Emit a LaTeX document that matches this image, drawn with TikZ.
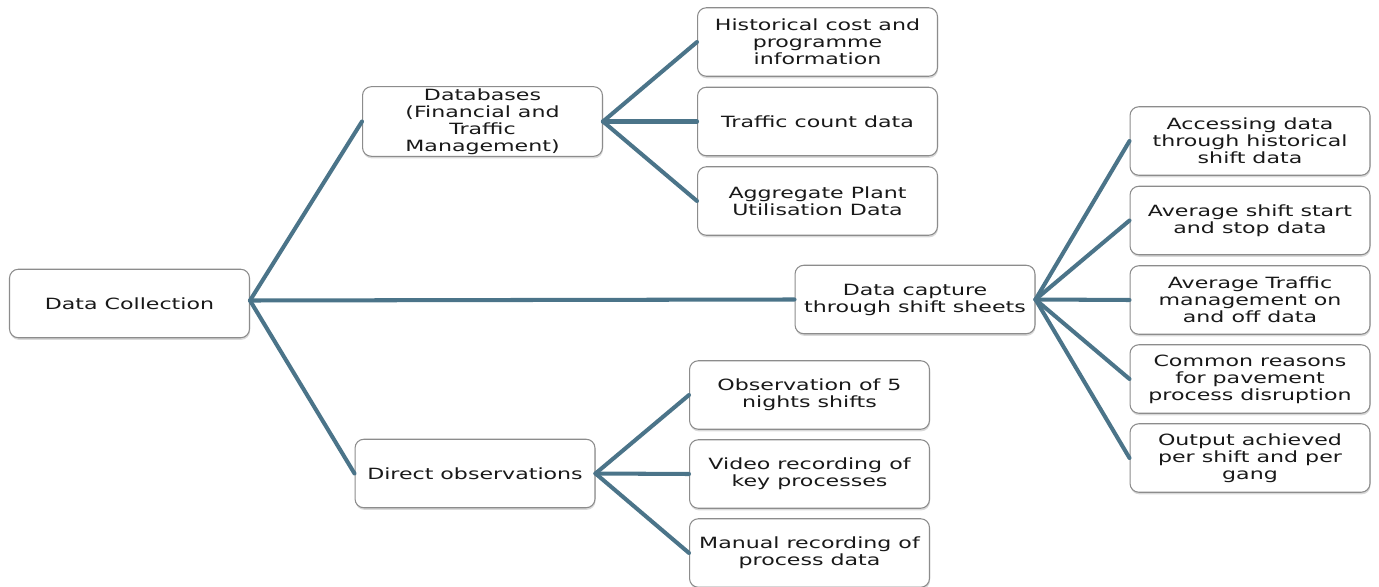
\documentclass[tikz,border=0pt]{standalone}
\usepackage{fontspec}
\setmainfont[FakeStretch=1.43]{DejaVu Sans}
\usetikzlibrary{shadows}
\definecolor{linkblue}{HTML}{4B7489}
\definecolor{boxgray}{HTML}{8C8C8C}
\begin{document}
\begin{tikzpicture}[x=0.02cm,y=-0.02cm,
  box/.style={draw=boxgray,line width=0.6pt,fill=white,rounded corners=5pt,
    minimum width=4.8cm,minimum height=1.37cm,align=center,inner sep=1pt,
    text=black!90,font=\fontsize{8.8}{9.7}\selectfont,
    drop shadow={shadow xshift=0.3pt,shadow yshift=-1.2pt,opacity=0.3}},
  link/.style={linkblue,line width=2.3pt,line cap=round}]
\useasboundingbox (0,0) rectangle (1379,587);
% left part
\node[box] (dc) at (129.5,303.5) {Data Collection};
\node[box] (db) at (482.5,121.5) {Databases\\(Financial and\\Traffic\\Management)};
\node[box] (dobs) at (475,473.5) {Direct observations};
\node[box] (cap) at (915,299.5) {Data capture\\through shift sheets};
% databases
\node[box] (hist) at (817.5,42) {Historical cost and\\programme\\information};
\node[box] (tcount) at (817.5,121.5) {Traffic count data};
\node[box] (plant) at (817.5,201) {Aggregate Plant\\Utilisation Data};
% shift sheets
\node[box] (acc) at (1250,141) {Accessing data\\through historical\\shift data};
\node[box] (avg) at (1250,220.5) {Average shift start\\and stop data};
\node[box] (tm) at (1250,300) {Average Traffic\\management on\\and off data};
\node[box] (reas) at (1250,379) {Common reasons\\for pavement\\process disruption};
\node[box] (outp) at (1250,458) {Output achieved\\per shift and per\\gang};
% observations
\node[box] (obs5) at (809.5,395) {Observation of 5\\nights shifts};
\node[box] (video) at (809.5,474) {Video recording of\\key processes};
\node[box] (manual) at (809.5,553) {Manual recording of\\process data};
% connectors
\coordinate (dcout) at ([yshift=0.06cm]dc.east);
\foreach \t in {db,cap,dobs} \draw[link] (dcout) -- (\t.west);
\foreach \t in {hist,tcount,plant} \draw[link] (db.east) -- (\t.west);
\foreach \t in {acc,avg,tm,reas,outp} \draw[link] (cap.east) -- (\t.west);
\foreach \t in {obs5,video,manual} \draw[link] (dobs.east) -- (\t.west);
\end{tikzpicture}
\end{document}
